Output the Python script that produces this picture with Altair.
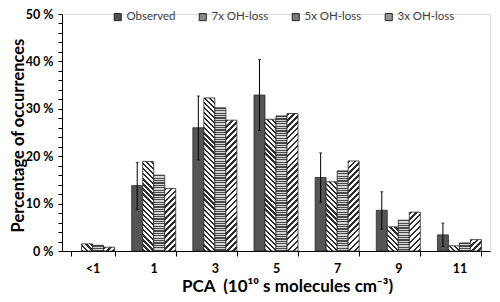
import math
import altair as alt

categories = ["<1", "1", "3", "5", "7", "9", "11"]
series_names = ["Observed", "7x OH-loss", "5x OH-loss", "3x OH-loss"]
observed = [None, 13.8, 26.0, 32.9, 15.5, 8.6, 3.4]
err_low = [None, 8.8, 19.2, 25.4, 10.3, 4.6, 0.9]
err_high = [None, 18.7, 32.7, 40.4, 20.7, 12.5, 5.9]
oh7 = [1.5, 18.9, 32.3, 27.8, 14.6, 5.1, 1.1]
oh5 = [1.2, 16.0, 30.2, 28.5, 16.9, 6.5, 1.7]
oh3 = [0.8, 13.2, 27.6, 29.0, 19.0, 8.2, 2.4]
y_ticks = list(range(0, 51, 2))

PLOT_W, PLOT_H = 428, 237
Y_MAX = 50
BAR_W = 11.0
FONT = "Lato"
DARK, LIGHT = "#2e2e2e", "#ffffff"
HDARK, HLIGHT = "#4a4a4a", "#d4d4d4"


def stripes(n, frac, dark, light):
    stops = []
    i = 0
    while i < n:
        a = i / n
        b = min((i + frac) / n, 1.0)
        c = min((i + 1) / n, 1.0)
        stops += [{"offset": round(a, 5), "color": dark}, {"offset": round(b, 5), "color": dark},
                  {"offset": round(b, 5), "color": light}, {"offset": round(c, 5), "color": light}]
        i += 1
    return stops


def make_fill(series, value):
    h = max(value / Y_MAX * PLOT_H, 0.5)
    w = BAR_W
    if series == "Observed":
        return "#555555"
    if series == "5x OH-loss":
        n = max(h / 2.4, 1)
        return {"gradient": "linear", "x1": 0, "y1": 0, "x2": 0, "y2": 1,
                "stops": stripes(n, 0.5, HDARK, HLIGHT)}
    a = (w + h) / (w * w + h * h)
    if series == "7x OH-loss":
        n = max((w + h) / (3.6 * math.sqrt(2)), 1)
        return {"gradient": "linear", "x1": 0, "y1": 1, "x2": a * w, "y2": 1 - a * h,
                "stops": stripes(n, 0.45, DARK, LIGHT)}
    n = max((w + h) / (4.2 * math.sqrt(2)), 1)
    return {"gradient": "linear", "x1": 0, "y1": 0, "x2": a * w, "y2": a * h,
            "stops": stripes(n, 0.45, DARK, LIGHT)}


bar_rows = []
for i, c in enumerate(categories):
    for s, vals in zip(series_names, [observed, oh7, oh5, oh3]):
        v = vals[i]
        if v is None:
            continue
        bar_rows.append({"cat": c, "series": s, "value": v, "fill": make_fill(s, v)})

err_rows = []
for i, c in enumerate(categories):
    if err_low[i] is None:
        continue
    err_rows.append({"cat": c, "series": "Observed", "lo": err_low[i], "hi": err_high[i]})

x_axis = alt.Axis(title="PCA\u00a0 (10¹⁰ s molecules cm⁻³)", labelAngle=0,
                  tickBand="extent", tickSize=5, tickColor="black",
                  domainColor="black", labelFont=FONT, labelFontSize=12.5,
                  labelFontWeight="bold", labelColor="black", labelPadding=6,
                  titleFont=FONT, titleFontSize=17, titleFontWeight="bold",
                  titleColor="black", titleX=225, titleY=40,
                  titleBaseline="alphabetic", titleAnchor="middle", titleAlign="center")
y_axis = alt.Axis(title="Percentage of occurrences", values=y_ticks,
                  labelExpr="datum.value % 10 == 0 ? datum.value + ' %' : ''",
                  labelOverlap=False, grid=False, tickSize=4, tickColor="black",
                  domainColor="black", labelFont=FONT, labelFontSize=12.5,
                  labelFontWeight="bold", labelColor="black", labelPadding=5,
                  titleFont=FONT, titleFontSize=16.5, titleFontWeight="bold",
                  titleColor="black", titleX=-39, titleY=121, titleAngle=270,
                  titleBaseline="alphabetic", titleAlign="center", titleAnchor="middle")
x_scale = alt.Scale(domain=categories, paddingInner=0.28, paddingOuter=0.14)
y_scale = alt.Scale(domain=[0, Y_MAX], nice=False)


def X():
    return alt.X("cat:N", sort=categories, scale=x_scale, axis=x_axis)


def XO():
    return alt.XOffset("series:N", sort=series_names,
                       scale=alt.Scale(domain=series_names, paddingInner=0, paddingOuter=0))


def Y(field):
    return alt.Y(field, stack=None, scale=y_scale, axis=y_axis)


bars = alt.Chart(alt.Data(values=bar_rows)).mark_bar(
    stroke="#2a2a2a", strokeWidth=0.8
).encode(
    x=X(), xOffset=XO(), y=Y("value:Q"),
    fill=alt.Fill("fill:N", scale=None),
)

legend_layer = alt.Chart(alt.Data(values=bar_rows)).mark_square(opacity=0).encode(
    x=X(), xOffset=XO(), y=Y("value:Q"),
    color=alt.Color("series:N", sort=series_names,
                    scale=alt.Scale(domain=series_names,
                                    range=["#505050", "#8a8a8a", "#7a7a7a", "#969696"]),
                    legend=alt.Legend(title=None, orient="none", direction="horizontal",
                                      legendX=50, legendY=-3, symbolType="square",
                                      symbolSize=50, symbolOpacity=1,
                                      symbolStrokeColor="#222222", symbolStrokeWidth=1,
                                      labelFont=FONT, labelFontSize=11.5, labelColor="#404040",
                                      columnPadding=21, symbolOffset=0, labelOffset=3)),
)

err_rule = alt.Chart(alt.Data(values=err_rows)).mark_rule(color="black", strokeWidth=1).encode(
    x=X(), xOffset=XO(), y=Y("lo:Q"), y2="hi:Q",
)
cap_hi = alt.Chart(alt.Data(values=err_rows)).mark_tick(color="black", size=3, thickness=1).encode(
    x=X(), xOffset=XO(), y=Y("hi:Q"),
)
cap_lo = alt.Chart(alt.Data(values=err_rows)).mark_tick(color="black", size=3, thickness=1).encode(
    x=X(), xOffset=XO(), y=Y("lo:Q"),
)

chart = alt.layer(bars, legend_layer, err_rule, cap_hi, cap_lo).properties(
    width=PLOT_W, height=PLOT_H,
    autosize=alt.AutoSizeParams(type="none"),
    padding={"left": 54, "top": 6, "right": 2, "bottom": 43},
).configure_view(stroke=None).configure(background="white")

chart.save("out.html", embed_options={"renderer": "svg", "actions": False})
